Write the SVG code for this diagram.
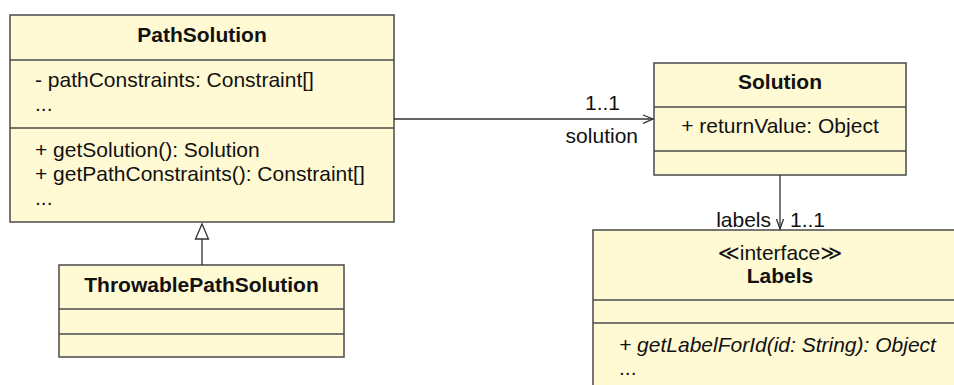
<svg xmlns="http://www.w3.org/2000/svg" width="954" height="385" viewBox="0 0 954 385">
<style>
.box{fill:#fff9d4;stroke:#4a4a4a;stroke-width:1.5}
.div{stroke:#4a4a4a;stroke-width:1.5}
text{font-family:"Liberation Sans",Arial,"DejaVu Sans",sans-serif;font-size:21px;fill:#111}
.t{font-weight:bold;text-anchor:middle}
.c{text-anchor:middle}
.e{text-anchor:end}
.i{font-style:italic}
.ln{stroke:#333;stroke-width:1.3;fill:none}
</style>
<rect width="954" height="385" fill="#fff"/>
<g id="PathSolution">
<rect class="box" x="10" y="15" width="384" height="207"/>
<line class="div" x1="10" y1="60" x2="394" y2="60"/>
<line class="div" x1="10" y1="128" x2="394" y2="128"/>
<text class="t" x="202" y="42">PathSolution</text>
<text x="35" y="87">- pathConstraints: Constraint[]</text>
<text x="35" y="111">...</text>
<text x="35" y="157">+ getSolution(): Solution</text>
<text x="35" y="181">+ getPathConstraints(): Constraint[]</text>
<text x="35" y="205">...</text>
</g>
<g id="ThrowablePathSolution">
<rect class="box" x="59" y="265" width="285" height="92"/>
<line class="div" x1="59" y1="309" x2="344" y2="309"/>
<line class="div" x1="59" y1="334" x2="344" y2="334"/>
<text class="t" x="201.5" y="292">ThrowablePathSolution</text>
</g>
<g id="Solution">
<rect class="box" x="654" y="63" width="252" height="112"/>
<line class="div" x1="654" y1="107" x2="906" y2="107"/>
<line class="div" x1="654" y1="151" x2="906" y2="151"/>
<text class="t" x="780" y="89">Solution</text>
<text class="c" x="780" y="133">+ returnValue: Object</text>
</g>
<g id="Labels">
<rect class="box" x="593" y="230" width="380" height="170"/>
<line class="div" x1="593" y1="300" x2="973" y2="300"/>
<line class="div" x1="593" y1="323" x2="973" y2="323"/>
<text class="c" x="780" y="260">≪interface≫</text>
<text class="t" x="780" y="283">Labels</text>
<text class="i" x="619" y="352">+ getLabelForId(id: String): Object</text>
<text x="619" y="375">...</text>
</g>
<g id="connectors">
<line class="ln" x1="394" y1="119" x2="653" y2="119"/>
<polyline class="ln" points="643,115 653,119 643,123.3"/>
<text x="585" y="110">1..1</text>
<text class="e" x="638" y="143">solution</text>
<line class="ln" x1="780" y1="175" x2="780" y2="229"/>
<polyline class="ln" points="776.5,219 780,229 783.5,219"/>
<text class="e" x="771" y="227">labels</text>
<text x="790" y="227">1..1</text>
<line class="ln" x1="202" y1="239" x2="202" y2="265"/>
<polygon points="202,224 195.5,239 208.5,239" fill="#fff" stroke="#333" stroke-width="1.3"/>
</g>
</svg>
